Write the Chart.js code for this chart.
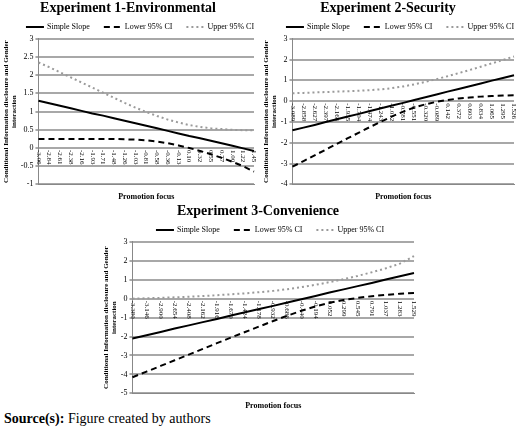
<!DOCTYPE html>
<html><head><meta charset="utf-8">
<script src="https://cdn.jsdelivr.net/npm/chart.js@4"></script>
<style>
body{margin:0;background:#fff;width:520px;height:433px;position:relative;overflow:hidden;font-family:"Liberation Serif","DejaVu Serif",serif}
canvas{position:absolute}
#src{position:absolute;left:4px;top:411px;font-size:14px}
</style></head><body>
<canvas id="c1" width="260" height="202" style="left:0;top:0"></canvas>
<canvas id="c2" width="260" height="202" style="left:260px;top:0"></canvas>
<canvas id="c3" width="320" height="208" style="left:100px;top:203px"></canvas>
<div id="src"><b>Source(s):</b> Figure created by authors</div>
<script>
const labels1=["-3.06","-2.84","-2.61","-2.38","-2.16","-1.93","-1.71","-1.48","-1.26","-1.03","-0.81","-0.58","-0.36","-0.13","0.10","0.32","0.55","0.77","1.00","1.22","1.45"];
const slope1=[1.30,1.23,1.16,1.09,1.02,0.95,0.89,0.82,0.75,0.68,0.61,0.54,0.47,0.40,0.33,0.27,0.20,0.13,0.06,-0.01,-0.08];
const lower1=[0.25,0.25,0.25,0.25,0.25,0.25,0.25,0.25,0.24,0.23,0.21,0.18,0.13,0.07,0.0,-0.08,-0.17,-0.27,-0.38,-0.5,-0.65];
const upper1=[2.35,2.22,2.08,1.94,1.8,1.66,1.52,1.38,1.24,1.11,0.99,0.88,0.78,0.70,0.63,0.58,0.54,0.52,0.50,0.49,0.49];
const labels2=["-3.089","-2.858","-2.627","-2.397","-2.166","-1.935","-1.704","-1.474","-1.243","-1.012","-0.781","-0.551","-0.320","-0.089","0.142","0.372","0.603","0.834","1.065","1.295","1.526"];
const slope2=[-1.40,-1.27,-1.14,-1.00,-0.87,-0.74,-0.61,-0.47,-0.34,-0.21,-0.08,0.06,0.19,0.32,0.46,0.59,0.72,0.85,0.99,1.12,1.25];
const lower2=[-3.15,-2.88,-2.6,-2.33,-2.05,-1.78,-1.51,-1.24,-0.98,-0.73,-0.5,-0.3,-0.15,-0.03,0.06,0.13,0.18,0.22,0.25,0.27,0.29];
const upper2=[0.38,0.40,0.42,0.44,0.46,0.48,0.50,0.53,0.57,0.63,0.71,0.81,0.93,1.06,1.2,1.35,1.5,1.66,1.82,1.98,2.15];
const labels3=["-3.380","-3.146","-2.900","-2.654","-2.408","-2.162","-1.916","-1.670","-1.424","-1.178","-0.932","-0.686","-0.440","-0.194","0.052","0.299","0.545","0.791","1.037","1.283","1.529"];
const slope3=[-2.10,-1.93,-1.76,-1.58,-1.41,-1.24,-1.07,-0.89,-0.72,-0.55,-0.38,-0.20,-0.03,0.14,0.32,0.49,0.66,0.83,1.01,1.18,1.35];
const lower3=[-4.15,-3.85,-3.55,-3.25,-2.95,-2.65,-2.35,-2.05,-1.76,-1.47,-1.18,-0.9,-0.64,-0.41,-0.22,-0.07,0.04,0.13,0.2,0.26,0.3];
const upper3=[0,0.02,0.04,0.07,0.1,0.14,0.18,0.23,0.28,0.34,0.41,0.5,0.61,0.73,0.87,1.03,1.2,1.39,1.6,1.85,2.25];

const SERIF='"Liberation Serif","DejaVu Serif",serif';
const zeroLabels={id:'zl',afterDatasetsDraw(ch){
  const x=ch.scales.x,y=ch.scales.y,c=ch.ctx,y0=y.getPixelForValue(0)+2;
  c.save();c.font='7px '+SERIF;c.fillStyle='#000';c.textAlign='left';c.textBaseline='middle';
  ch.data.labels.forEach((l,i)=>{c.save();c.translate(x.getPixelForValue(i),y0);c.rotate(Math.PI/2);c.fillText(l,0,0);c.restore();});
  c.restore();}};
const lineLegend={id:'ll',afterDraw(ch){
  const c=ch.ctx,ds=ch.data.datasets,yy=ch.options.plugins.ll.y;
  c.save();c.font='8px '+SERIF;c.textBaseline='middle';c.textAlign='left';
  const bw=18,gap=3,sp=14;
  const ws=ds.map(d=>bw+gap+c.measureText(d.label).width);
  let x=(ch.width-(ws.reduce((a,b)=>a+b,0)+sp*(ds.length-1)))/2+10;
  ds.forEach((d,i)=>{c.strokeStyle=d.borderColor;c.lineWidth=2;c.setLineDash(d.borderDash||[]);
    c.beginPath();c.moveTo(x,yy);c.lineTo(x+bw,yy);c.stroke();c.setLineDash([]);
    c.fillStyle='#000';c.fillText(d.label,x+bw+gap,yy);x+=ws[i]+sp;});
  c.restore();}};
function make(id,title,labels,s,lo,up,min,max,step){
  new Chart(document.getElementById(id),{type:'line',
    data:{labels,datasets:[
      {label:'Simple Slope',data:s,borderColor:'#000',borderWidth:2,backgroundColor:'transparent',pointRadius:0,tension:0},
      {label:'Lower 95% CI',data:lo,borderColor:'#000',borderWidth:2,borderDash:[6,4],backgroundColor:'transparent',pointRadius:0,tension:0},
      {label:'Upper 95% CI',data:up,borderColor:'#9a9a9a',borderWidth:2,borderDash:[2,3],backgroundColor:'transparent',pointRadius:0,tension:0}]},
    options:{responsive:false,animation:false,layout:{padding:{right:6,left:2,top:0}},
      plugins:{title:{display:true,text:title,color:'#000',font:{family:SERIF,size:14,weight:'bold'},padding:{top:0,bottom:22}},
        legend:{display:false},tooltip:{enabled:false},ll:{y:27}},
      scales:{x:{ticks:{display:false},grid:{display:false},border:{color:'#888'},
          title:{display:true,text:'Promotion focus',color:'#000',font:{family:SERIF,size:8,weight:'bold'},padding:{top:0,bottom:0}}},
        y:{min,max,ticks:{stepSize:step,color:'#000',font:{family:SERIF,size:8},padding:2,callback:v=>String(v)},grid:{color:'#a8a8a8',lineWidth:2,tickLength:3},border:{color:'#888'},
          title:{display:true,text:['Conditional Information disclosure and Gender','interaction'],color:'#000',font:{family:SERIF,size:7,weight:'bold'},padding:0}}}},
    plugins:[zeroLabels,lineLegend]});
}
make('c1','Experiment 1-Environmental',labels1,slope1,lower1,upper1,-1,3,0.5);
make('c2','Experiment 2-Security',labels2,slope2,lower2,upper2,-4,3,1);
make('c3','Experiment 3-Convenience',labels3,slope3,lower3,upper3,-5,3,1);
</script></body></html>
